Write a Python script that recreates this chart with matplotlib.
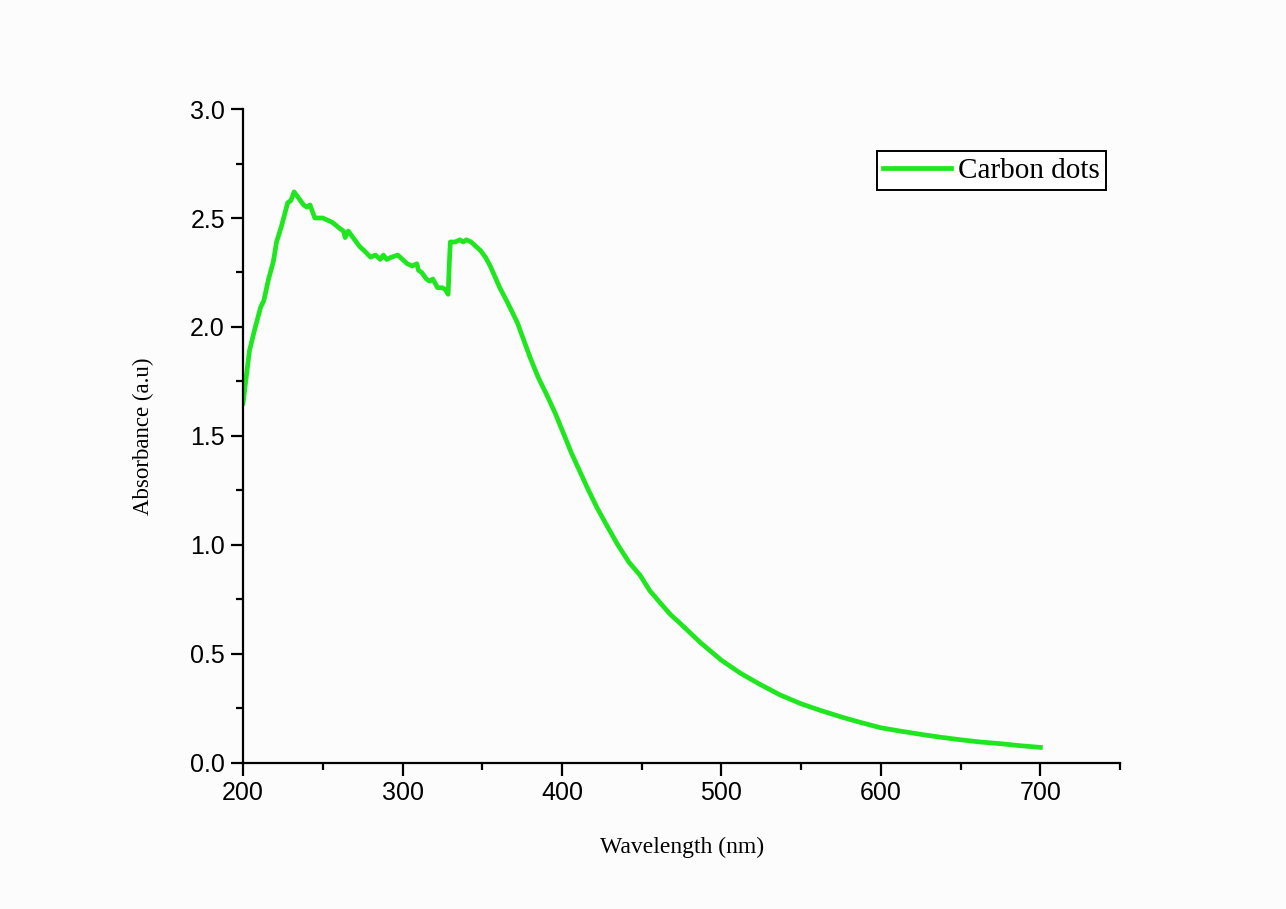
import matplotlib.pyplot as plt
from matplotlib.ticker import MultipleLocator

# Данные спектра поглощения
wavelength = [200, 204, 207, 211, 213, 216, 219, 221, 224, 228, 230, 232, 234, 236,
              238, 240, 242, 245, 250, 256, 261, 263, 264, 266, 269, 273, 276, 280,
              283, 286, 288, 290, 293, 297, 300, 303, 306, 309, 310, 312, 315, 317,
              319, 322, 325, 327, 328.6, 329.4, 330, 333, 336, 338, 340, 343, 346,
              349, 352, 355, 358, 361, 366, 372, 376, 380, 385, 391, 396, 401, 406,
              411, 416, 422, 428, 435, 442, 449, 455, 462, 468, 474, 487, 500, 512,
              524, 537, 550, 562, 575, 587, 600, 612, 625, 637, 650, 662, 675, 687, 700]
absorbance = [1.65, 1.89, 1.98, 2.09, 2.12, 2.22, 2.30, 2.39, 2.46, 2.57, 2.58, 2.62, 2.60, 2.58,
              2.56, 2.55, 2.56, 2.50, 2.50, 2.48, 2.45, 2.44, 2.41, 2.44, 2.41, 2.37, 2.35, 2.32,
              2.33, 2.31, 2.33, 2.31, 2.32, 2.33, 2.31, 2.29, 2.28, 2.29, 2.26, 2.25, 2.22, 2.21,
              2.22, 2.18, 2.18, 2.17, 2.15, 2.30, 2.39, 2.39, 2.40, 2.39, 2.40, 2.39, 2.37,
              2.35, 2.32, 2.28, 2.23, 2.18, 2.11, 2.02, 1.94, 1.86, 1.77, 1.68, 1.60, 1.51, 1.42,
              1.34, 1.26, 1.17, 1.09, 1.00, 0.92, 0.86, 0.79, 0.73, 0.68, 0.64, 0.55, 0.47, 0.41,
              0.36, 0.31, 0.27, 0.24, 0.21, 0.185, 0.16, 0.145, 0.13, 0.117, 0.105, 0.095, 0.087, 0.078, 0.07]

fig = plt.figure(figsize=(12.86, 9.09), dpi=100, facecolor='#fcfcfc')
ax = fig.add_axes([0.189, 0.161, 0.682, 0.719])
ax.set_facecolor('#fcfcfc')

ax.plot(wavelength, absorbance, color='#1fe61f', linewidth=3.4, label='Carbon dots')

ax.set_xlim(200, 750)
ax.set_ylim(0, 3.0)
ax.xaxis.set_major_locator(MultipleLocator(100))
ax.xaxis.set_minor_locator(MultipleLocator(50))
ax.yaxis.set_major_locator(MultipleLocator(0.5))
ax.yaxis.set_minor_locator(MultipleLocator(0.25))
ax.yaxis.set_major_formatter(plt.FuncFormatter(lambda v, p: f'{v:.1f}'))

for s in ['top', 'right']:
    ax.spines[s].set_visible(False)
for s in ['left', 'bottom']:
    ax.spines[s].set_linewidth(1.6)

ax.tick_params(which='major', direction='out', length=9, width=1.6,
               labelsize=18, pad=4)
ax.tick_params(which='minor', direction='out', length=5, width=1.6)
for lab in ax.get_xticklabels() + ax.get_yticklabels():
    lab.set_family('Liberation Sans')

ax.set_xlabel('Wavelength (nm)', family='Liberation Serif', fontsize=17, labelpad=23)
ax.set_ylabel('Absorbance (a.u)', family='Liberation Serif', fontsize=16.5, labelpad=26)

leg = ax.legend(loc='upper right', bbox_to_anchor=(1106 / 1286, 1 - 151 / 909),
                bbox_transform=fig.transFigure, fancybox=False, edgecolor='black',
                framealpha=1, prop={'family': 'Liberation Serif', 'size': 21},
                handlelength=2.3, handletextpad=0.25, borderpad=0.22, borderaxespad=0)
leg.get_frame().set_linewidth(1.4)

plt.savefig('out.png', dpi=100, facecolor=fig.get_facecolor())
